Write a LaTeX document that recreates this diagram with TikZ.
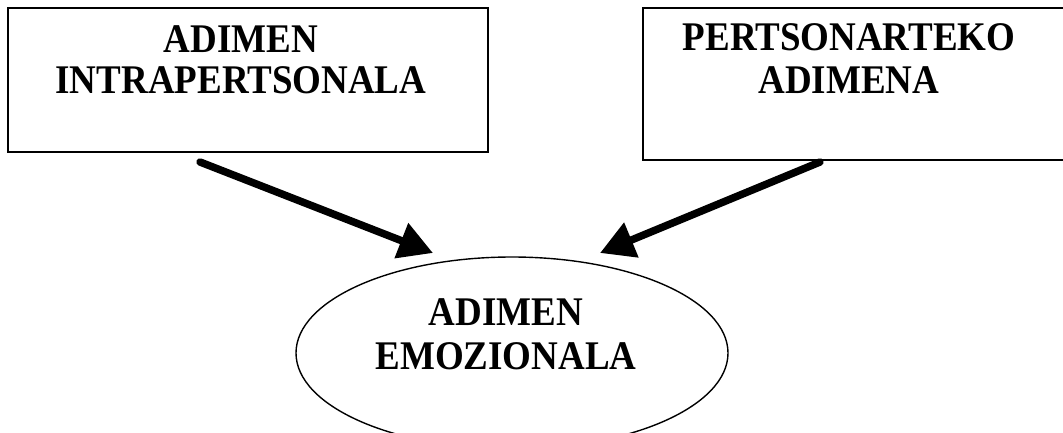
\documentclass[tikz,border=0pt]{standalone}
\usepackage{fontspec}
\usepackage{graphicx}
\setmainfont{Liberation Serif}
\usetikzlibrary{shapes.geometric,arrows.meta}
% slightly tall capitals
\newcommand{\tallcap}[1]{\scalebox{1}[1.1]{#1}}
\begin{document}
\begin{tikzpicture}[x=1pt,y=-1pt,
  frame/.style={draw=black, line width=1.5pt, rectangle, inner sep=0pt},
  oval/.style={draw=black, line width=1.4pt, ellipse, inner sep=0pt,
    minimum width=432pt, minimum height=192pt},
  caption/.style={align=center, inner sep=0pt, anchor=north,
    font=\fontsize{37}{41}\selectfont\bfseries},
  flow/.style={line width=7.5pt, line cap=round,
    -{Triangle[length=34pt,width=36pt]}}]
\useasboundingbox (0,0) rectangle (1063,433);
\begin{scope}
\clip (0,0) rectangle (1063,433);
% the two source boxes and the target ellipse
\node[frame, minimum width=480pt, minimum height=144pt] (intra) at (248,80) {};
\node[frame, minimum width=427pt, minimum height=152pt] (inter) at (856.5,84) {};
\node[oval] (emo) at (512,353) {};
% their captions
\node[caption] (intraText) at (241,25) {\tallcap{ADIMEN}\\\tallcap{INTRAPERTSONALA}};
\node[caption, font=\fontsize{37}{43}\selectfont\bfseries] (interText) at (849,23)
  {\tallcap{PERTSONARTEKO}\\\tallcap{ADIMENA}};
\node[caption, font=\fontsize{37}{44}\selectfont\bfseries] (emoText) at (506,298)
  {\tallcap{ADIMEN}\\\tallcap{EMOZIONALA}};
% arrow ends
\coordinate (intraTail) at (200,162);
\coordinate (intraTip) at (433,253);
\coordinate (interTail) at (820,162);
\coordinate (interTip) at (600,253);
\draw[flow] (intraTail) -- (intraTip);
\draw[flow] (interTail) -- (interTip);
\end{scope}
\end{tikzpicture}
\end{document}
